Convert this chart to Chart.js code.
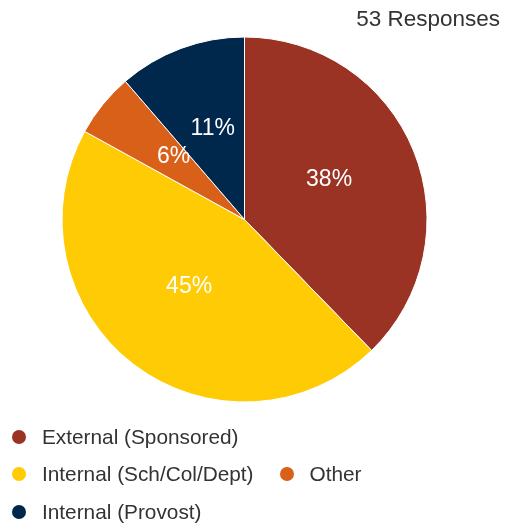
<!DOCTYPE html>
<html>
<head>
<meta charset="utf-8">
<script src="https://cdn.jsdelivr.net/npm/chart.js@4"></script>
<style>
  html, body { margin: 0; padding: 0; background: #fff; }
  body { width: 510px; height: 527px; position: relative; overflow: hidden;
         font-family: "Liberation Sans", Arial, Helvetica, sans-serif; color: #333; }
  #wrap { position: absolute; left: 0; top: 0; width: 510px; height: 527px; }
  #total { position: absolute; right: 10px; top: 9px; font-size: 22.5px; line-height: 20px; }
  #legend { position: absolute; left: 12px; top: 418px; width: 390px;
            display: flex; flex-wrap: wrap; column-gap: 26px; }
  #legend .item { display: flex; align-items: center; height: 37.5px; font-size: 20.8px; white-space: nowrap; }
  #legend .dot { width: 14px; height: 14px; border-radius: 50%; margin-right: 16px; }
</style>
</head>
<body>
<div id="wrap"><canvas id="fundingChart"></canvas></div>
<div id="total"></div>
<div id="legend"></div>
<script>
const categories = ['External (Sponsored)', 'Internal (Sch/Col/Dept)', 'Other', 'Internal (Provost)'];
const responses = [20, 24, 3, 6];
const sliceColors = ['#9A3324', '#FFCB05', '#D86018', '#00274C'];

const total = responses.reduce((a, b) => a + b, 0);
document.getElementById('total').textContent = total + ' Responses';

// percentage labels inside each slice, baseline on the half-radius point
const sliceLabels = {
  id: 'sliceLabels',
  afterDatasetsDraw(chart) {
    const ctx = chart.ctx;
    const meta = chart.getDatasetMeta(0);
    ctx.save();
    ctx.fillStyle = '#fff';
    ctx.font = '23px "Liberation Sans", Arial, sans-serif';
    ctx.textAlign = 'center';
    ctx.textBaseline = 'alphabetic';
    meta.data.forEach((arc, i) => {
      const { x, y, startAngle, endAngle, outerRadius } = arc.getProps(['x', 'y', 'startAngle', 'endAngle', 'outerRadius'], true);
      const mid = (startAngle + endAngle) / 2;
      const r = outerRadius * 0.5;
      const pct = Math.round(responses[i] / total * 100) + '%';
      ctx.fillText(pct, x + Math.cos(mid) * r, y + Math.sin(mid) * r + 1);
    });
    ctx.restore();
  }
};

new Chart(document.getElementById('fundingChart'), {
  type: 'pie',
  data: {
    labels: categories,
    datasets: [{
      data: responses,
      backgroundColor: sliceColors,
      borderColor: '#fff',
      borderWidth: 1
    }]
  },
  options: {
    responsive: true,
    maintainAspectRatio: false,
    animation: false,
    layout: { padding: { left: 61.5, top: 36.5, right: 82.5, bottom: 124.5 } },
    plugins: {
      legend: { display: false },
      tooltip: { enabled: false }
    }
  },
  plugins: [sliceLabels]
});

// legend below the pie
const legend = document.getElementById('legend');
categories.forEach((name, i) => {
  const item = document.createElement('div');
  item.className = 'item';
  const dot = document.createElement('span');
  dot.className = 'dot';
  dot.style.background = sliceColors[i];
  item.appendChild(dot);
  item.appendChild(document.createTextNode(name));
  legend.appendChild(item);
});
</script>
</body>
</html>
